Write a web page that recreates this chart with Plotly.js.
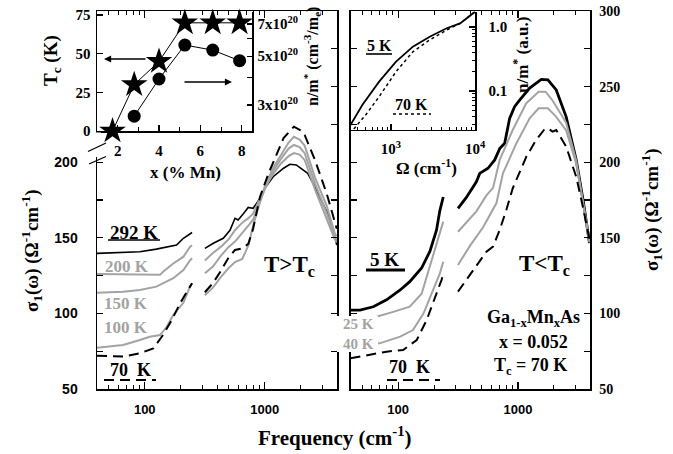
<!DOCTYPE html>
<html><head><meta charset="utf-8">
<script src="https://cdn.plot.ly/plotly-3.0.1.min.js"></script>
<style>html,body{margin:0;padding:0;background:#fff}#chart{width:673px;height:454px}</style>
</head><body><div id="chart"></div>
<script>
// ---------- data: left panel (T > Tc), frequency in cm^-1, sigma1 in Ohm^-1 cm^-1 ----------
const f292 = [40,66,91,125,184,210,238,248,null,317,373,451,513,565,600,650,728,800,912,1000,1175,1435,1620,1830,2080,2280,2530,2880,3280,3740,3980];
const s292 = [139.7,140.2,140.8,142.5,145.2,149.7,153,153.5,null,143,146.4,149.7,155,162.9,161.8,165,170.1,169.5,176,182.7,190.4,196,198.6,198.2,194.9,192.6,186,177.2,167.5,155.2,145.2];
const f200 = [40,66,91,134,142,173,210,238,248,null,317,370,430,500,565,650,730,800,900,1000,1170,1360,1580,1750,1950,2150,2620,3290,3830,3980];
const s200 = [126,126,125.5,125.5,127.5,133,137.5,144,145,null,135,140,144,149,155,160,163,166,175,183,192,199,204,206,205,201.5,182,162,149,147];
const f150 = [40,66,91,125,173,210,238,248,null,317,370,430,500,565,650,730,800,900,1000,1170,1360,1580,1750,1950,2150,2620,3290,3830,3980];
const s150 = [113.7,114.4,115.5,117.7,123.3,128.7,135,136.5,null,126.5,131,138,144,147.5,153,158,162,172,182,194,202,209,211.4,210,206,186,166,151,149];
const f100 = [40,66,91,110,134,152,173,210,238,248,null,317,370,430,500,565,650,730,800,900,1000,1170,1360,1580,1750,1950,2150,2620,3290,3830,3980];
const s100 = [77.3,79.1,82.4,84.6,85.7,91,99,107,117.7,120,null,112,117,124,130,134,136,145,158,172,184,196,205,213,216.8,215,211,190,171,153,151];
const f70L = [40,66,91,118,142,168,197,238,248,null,317,370,430,500,565,650,730,800,912,1075,1300,1435,1750,2000,2150,2620,3290,3830,3980];
const s70L = [72,71.5,73.6,76.9,85.7,95.6,106.7,117.7,120,null,114,120,128,137,142,143,146,156,177,192.6,208,216,223.5,221,218,201.5,179,160,156];
// ---------- right panel (T < Tc) ----------
const f5 = [40,48,62,80,104,125,157,184,209,223,238,null,316,370,450,480,563,640,705,775,853,938,1034,1253,1568,1780,2090,2530,3070,3500,3960];
const s5 = [102.2,102.2,104.4,109,115.5,121,130,141,155,168,177,null,169.5,176.5,187,192.6,196,201.5,209,212.5,229,236.7,241,249,254.8,254.4,247.8,230,201.5,175,146.5];
const f25 = [40,66,91,125,157,184,209,238,null,316,450,546,620,705,905,1175,1490,1700,1940,2360,2530,3070,3500,3960];
const s25 = [97,97.8,101,104.4,113,131,147,160.7,null,154,167.5,178,183,201.5,221.3,239,246.6,246.6,241,230,226,201,174,147];
const f40 = [40,70,104,133,163,196,223,238,null,316,400,512,662,750,970,1253,1490,1780,2090,2530,3070,3500,3960];
const s40 = [79.5,80.2,84.6,89,100,115.5,126.5,134.2,null,132,145,157,173,192.6,212.4,229,235.6,235.6,230,221,199,173,147.5];
const f70R = [40,58,80,110,143,173,203,230,240,null,316,370,423,546,620,705,800,905,1175,1420,1650,1780,1950,2090,2530,3070,3500,3960];
const s70R = [70.3,72.5,74.7,75.8,82.4,95.6,110,122,127,null,114.4,122,128.7,140.8,144.2,155.2,168.4,182.7,203.6,214.7,221.3,222.4,220.2,221.3,210.3,190.3,170,149];
// ---------- inset 1: Tc and n/m* vs Mn content ----------
const mnTc = [1.75,2.8,4.0,5.25,6.6,7.9];
const tcK = [0,30,45,70,70,70];
const mnN = [2.8,4.0,5.25,6.6,7.9];
const nOverM = [2.67e20,3.94e20,5.62e20,5.33e20,4.77e20];
// ---------- inset 2: n/m* (a.u.) vs cutoff Omega ----------
const om5 = [330,456,723,1149,1824,2890,4600,6650,10000];
const nm5 = [0.0294,0.0604,0.140,0.287,0.492,0.705,0.955,1.14,1.73];
const om70 = [361,500,723,1149,1824,2890,4600,6650,10000];
const nm70 = [0.0255,0.0422,0.0814,0.200,0.411,0.627,0.898,1.14,1.73];
// ---------- tick labels ----------
const freqTicks = [100,1000], freqTickText = ['100','1000'];
const freqMinor = [40,50,60,70,80,90,200,300,400,500,600,700,800,900,2000,3000,4000];
const sigTicksL = [50,100,150,200], sigTickTextL = ['50','100','150','200'];
const sigAll = [50,75,100,125,150,175,200,225,250,275,300];
const sigTickTextR = ['50','','100','','150','','200','','250','','300'];
const mnTicks = [2,4,6,8];
const tcTicks = [0,25,50,75];
const nTicks = [3e20,4e20,5e20,6e20,7e20];
const nTickText = ['3x10<sup>20</sup>','','5x10<sup>20</sup>','','7x10<sup>20</sup>'];
const omTicks = [1000,10000], omTickText = ['10<sup>3</sup>','10<sup>4</sup>'];
const omMinor = [400,500,600,700,800,900,2000,3000,4000,5000,6000,7000,8000,9000];
const nmTicks = [0.1,1], nmTickText = ['0.1','1.0'];
const nmMinor = [0.03,0.04,0.05,0.06,0.07,0.08,0.09,0.2,0.3,0.4,0.5,0.6,0.7,0.8,0.9];

const W=673,H=454;
const PX=x=>x/W, PY=y=>1-y/H;
const GRAY='#a3a3a3';
const SERIF='"Liberation Serif", "Times New Roman", serif';
const SANS='"Liberation Sans", Arial, sans-serif';
const base = {showline:true, linecolor:'black', linewidth:1.5, ticks:'inside', tickcolor:'black', tickwidth:1.2, showgrid:false, zeroline:false, fixedrange:true};
const serifTick = {family:SERIF, size:14, weight:700, color:'black'};
const insetTick = {family:SERIF, size:15, weight:700, color:'black'};
const dashPat = '10px,6px';

function ln(x,y,xa,ya,color,width,dash){
  return {x:x,y:y,xaxis:xa,yaxis:ya,mode:'lines',connectgaps:false,showlegend:false,hoverinfo:'skip',
    line:{color:color,width:width,dash:dash||'solid'}};
}
const traces = [
  ln(f292,s292,'x','y','black',1.6),
  ln(f200,s200,'x','y',GRAY,2),
  ln(f150,s150,'x','y',GRAY,2),
  ln(f100,s100,'x','y',GRAY,2),
  ln(f70L,s70L,'x','y','black',2,dashPat),
  ln(f5,s5,'x2','y2','black',2.8),
  ln(f25,s25,'x2','y2',GRAY,2),
  ln(f40,s40,'x2','y2',GRAY,2),
  ln(f70R,s70R,'x2','y2','black',2,dashPat),
  {x:mnTc,y:tcK,xaxis:'x3',yaxis:'y3',mode:'lines+markers',cliponaxis:false,showlegend:false,hoverinfo:'skip',
   line:{color:'black',width:1},marker:{symbol:'star',size:20,color:'black'}},
  {x:mnN,y:nOverM,xaxis:'x3',yaxis:'y4',mode:'lines+markers',cliponaxis:false,showlegend:false,hoverinfo:'skip',
   line:{color:'black',width:1},marker:{symbol:'circle',size:13,color:'black'}},
  ln(om5,nm5,'x4','y5','black',1.8),
  ln(om70,nm70,'x4','y5','black',1.5,'dot'),
  {x:[],y:[],xaxis:'x',yaxis:'y6',showlegend:false,hoverinfo:'skip',mode:'lines'}
];

function A(text,x,y,size,o){
  return Object.assign({text:text,x:PX(x),y:PY(y),xref:'paper',yref:'paper',showarrow:false,
    xanchor:'center',yanchor:'middle',font:{family:SERIF,size:size,weight:700,color:'black'}},o||{});
}
const G={font:{family:SERIF,size:17,weight:700,color:GRAY}};
const G2={font:{family:SERIF,size:15,weight:700,color:GRAY}};
const annotations = [
  A('292 K',134,232,19),
  A('200 K',127,266,17,G),
  A('150 K',126,303,17,G),
  A('100 K',126,327,17,G),
  A('70  K',130,370,18),
  A('T&gt;T<sub>c</sub>',262,266,23,{xanchor:'left'}),
  A('5 K',384,259,19),
  A('25 K',358,324,15,G2),
  A('40 K',358,343.5,15,G2),
  A('70  K',410,367,18),
  A('T&lt;T<sub>c</sub>',517,265,23,{xanchor:'left'}),
  A('Ga<sub>1-x</sub>Mn<sub>x</sub>As',533,318,18),
  A('x = 0.052',533,342,18),
  A('T<sub>c</sub> = 70 K',530,366,18),
  // inset 1
  A('T<sub>c</sub> (K)',52,61,19,{textangle:-90}),
  A('x (% Mn)',185,172,17),
  A('n/m<sup>*</sup> (cm<sup>-3</sup>/m<sub>e</sub>)',312,57,16,{textangle:-90}),
  // inset 2
  A('5 K',379,45,16),
  A('70 K',411,104,16),
  A('Ω (cm<sup>-1</sup>)',426,167,17),
  A('n/m<sup>*</sup> (a.u.)',521,55,17,{textangle:-90}),
  // main titles
  A('Frequency (cm<sup>-1</sup>)',335,436,21),
  A('σ<sub>1</sub>(ω) (Ω<sup>-1</sup>cm<sup>-1</sup>)',32,251,19,{textangle:-90}),
  A('σ<sub>1</sub>(ω) (Ω<sup>-1</sup>cm<sup>-1</sup>)',651,210,19,{textangle:-90}),
  // arrows in inset 1
  {x:PX(104),y:PY(59),xref:'paper',yref:'paper',text:'',showarrow:true,ax:43,ay:0,arrowhead:2,arrowsize:1.1,arrowwidth:1.3,arrowcolor:'black',standoff:0},
  {x:PX(232),y:PY(82),xref:'paper',yref:'paper',text:'',showarrow:true,ax:-49,ay:0,arrowhead:2,arrowsize:1.1,arrowwidth:1.3,arrowcolor:'black',standoff:0}
];

function L(x0,y0,x1,y1,w,dash){
  return {type:'line',xref:'paper',yref:'paper',x0:PX(x0),y0:PY(y0),x1:PX(x1),y1:PY(y1),layer:'above',
    line:{color:'black',width:w,dash:dash||'solid'}};
}
function R(x0,y0,x1,y1){
  return {type:'rect',xref:'paper',yref:'paper',x0:PX(x0),x1:PX(x1),y0:PY(y1),y1:PY(y0),fillcolor:'white',line:{width:0},layer:'above'};
}
const shapes = [
  R(93,132.5,101,157),
  R(337,316,378,352),
  L(88,151.5,106,143,1.3),
  L(89,164,106,156.5,1.3),
  L(108,240,160,240,1.6),
  L(104,380,156,380,2,dashPat),
  L(366,270,405,270,3),
  L(387,380,440,380,2,dashPat),
  L(366,54,392,54,1.6),
  L(393,114,431,114,1.3,'dot')
];

const layout = {
  width:W,height:H,margin:{l:0,r:0,t:0,b:0},
  paper_bgcolor:'white',plot_bgcolor:'rgba(0,0,0,0)',
  showlegend:false,
  xaxis:Object.assign({},base,{domain:[PX(97),PX(337)],anchor:'y',type:'log',range:[Math.log10(40),Math.log10(4000)],
    mirror:'ticks',tickvals:freqTicks,ticktext:freqTickText,ticklen:7,
    minor:{tickmode:'array',tickvals:freqMinor,ticks:'inside',ticklen:4,tickcolor:'black',tickwidth:1},
    tickfont:{family:SANS,size:13,weight:700,color:'black'},ticklabelstandoff:8}),
  yaxis:Object.assign({},base,{domain:[PY(389),PY(11)],anchor:'x',range:[50,300],
    tickvals:sigTicksL,ticktext:sigTickTextL,ticklen:6,
    minor:{tickmode:'array',tickvals:[75,125,175],ticks:'inside',ticklen:6,tickcolor:'black',tickwidth:1.2},
    tickfont:{family:SANS,size:14,weight:700,color:'black'},ticklabelstandoff:15}),
  yaxis6:Object.assign({},base,{overlaying:'y',side:'right',anchor:'x',range:[50,300],
    tickvals:sigAll,ticklen:6,showticklabels:false}),
  xaxis2:Object.assign({},base,{domain:[PX(350.5),PX(590)],anchor:'y2',type:'log',range:[Math.log10(40),Math.log10(4000)],
    mirror:'ticks',tickvals:freqTicks,ticktext:freqTickText,ticklen:7,
    minor:{tickmode:'array',tickvals:freqMinor,ticks:'inside',ticklen:4,tickcolor:'black',tickwidth:1},
    tickfont:{family:SANS,size:13,weight:700,color:'black'},ticklabelstandoff:8}),
  yaxis2:Object.assign({},base,{domain:[PY(389),PY(11)],anchor:'x2',side:'right',range:[50,300],mirror:'ticks',
    tickvals:sigAll,ticktext:sigTickTextR,ticklen:6,tickfont:serifTick,ticklabelstandoff:5}),
  xaxis3:Object.assign({},base,{domain:[PX(97),PX(252)],anchor:'y3',range:[1,8.5],
    tickvals:mnTicks,ticklen:6,
    minor:{tickmode:'array',tickvals:[3,5,7],ticks:'inside',ticklen:4,tickcolor:'black',tickwidth:1},
    tickfont:insetTick,ticklabelstandoff:5}),
  yaxis3:Object.assign({},base,{domain:[PY(131),PY(12)],anchor:'x3',range:[0,77],
    tickvals:tcTicks,ticklen:6,tickfont:insetTick,ticklabelstandoff:2}),
  yaxis4:Object.assign({},base,{overlaying:'y3',anchor:'x3',side:'right',type:'log',range:[20.359,20.90],
    tickvals:nTicks,ticktext:nTickText,ticklen:5,tickfont:insetTick,ticklabelstandoff:1}),
  xaxis4:Object.assign({},base,{domain:[PX(350.5),PX(475)],anchor:'y5',type:'log',range:[Math.log10(330),4],
    tickvals:omTicks,ticktext:omTickText,ticklen:6,
    minor:{tickmode:'array',tickvals:omMinor,ticks:'inside',ticklen:3,tickcolor:'black',tickwidth:1},
    tickfont:insetTick,ticklabelstandoff:5}),
  yaxis5:Object.assign({},base,{domain:[PY(129.5),PY(11.5)],anchor:'x4',side:'right',type:'log',range:[-1.602,0.242],
    tickvals:nmTicks,ticktext:nmTickText,ticklen:6,
    minor:{tickmode:'array',tickvals:nmMinor,ticks:'inside',ticklen:3,tickcolor:'black',tickwidth:1},
    tickfont:insetTick,ticklabelstandoff:9}),
  annotations:annotations,
  shapes:shapes
};
Plotly.newPlot('chart',traces,layout,{displayModeBar:false,staticPlot:true});
</script></body></html>
